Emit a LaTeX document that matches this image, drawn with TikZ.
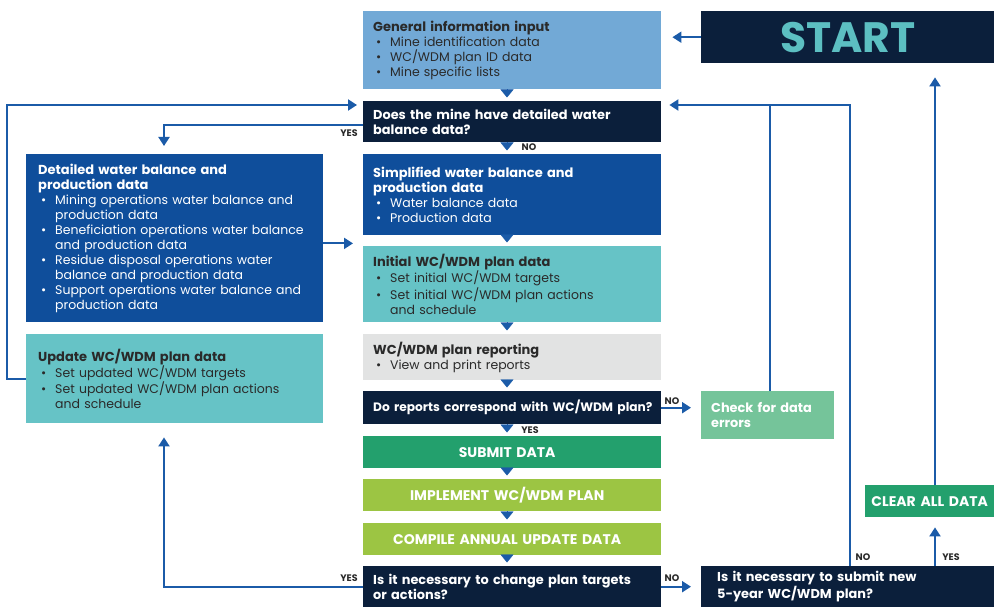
\documentclass[tikz,border=0pt]{standalone}
\usepackage{fontspec}
\setmainfont{Poppins}
\usetikzlibrary{arrows.meta,calc}
\definecolor{navy}{HTML}{0B1F3B}
\definecolor{lblue}{HTML}{72A9D6}
\definecolor{mblue}{HTML}{0F4E9B}
\definecolor{teal}{HTML}{66C3C6}
\definecolor{lgray}{HTML}{E2E3E3}
\definecolor{cgreen}{HTML}{75C49A}
\definecolor{dgreen}{HTML}{23A06D}
\definecolor{lime}{HTML}{9CC543}
\definecolor{ablue}{HTML}{1B5BA8}
\definecolor{starttxt}{HTML}{5CBFC2}
\definecolor{dtext}{HTML}{2A2A2A}
\newcommand{\bl}{\makebox[17pt][l]{\hspace{3pt}\textbullet}}
\newcommand{\ct}{\hspace*{17pt}}
\begin{document}
\begin{tikzpicture}[x=1pt,y=-1pt,
  box/.style={anchor=north west, inner ysep=0pt, inner xsep=10pt, align=left,
    font=\fontsize{12.5}{15}\selectfont},
  hd/.style={font=\fontsize{12.9}{15}\bfseries\selectfont},
  conn/.style={draw=ablue, line width=2pt, -{Triangle[width=11pt,length=9pt]}},
  plain/.style={draw=ablue, line width=2pt},
  tri/.style={draw=ablue, fill=ablue, line width=0.4pt, -{Triangle[width=13pt,length=8pt]}},
  lbl/.style={font=\fontsize{9.5}{10}\bfseries\selectfont, text=dtext, inner sep=0pt},
  caps/.style={font=\fontsize{14}{15}\bfseries\selectfont, text=white}
]
\useasboundingbox (0,0) rectangle (994,607);
\coordinate (colx) at (507,0);

% boxes
\node[box, fill=lblue, minimum width=298pt, minimum height=78pt, text width=278pt, text=dtext] (gen) at (363,11)
 {{\bfseries\fontsize{13}{15}\selectfont General information input}\\ \bl Mine identification data\\ \bl WC/WDM plan ID data\\ \bl Mine specific lists};
\node[box, fill=navy, minimum width=293pt, minimum height=52pt, text width=273pt, align=center, text=starttxt,
  font=\fontsize{42.5}{42}\bfseries\selectfont] (start) at (701,11) {START};
\node[box, fill=navy, minimum width=298pt, minimum height=41pt, text width=278pt, text=white, hd] (q1) at (363,101)
 {Does the mine have detailed water\\balance data?};
\node[box, fill=mblue, minimum width=297pt, minimum height=168pt, text width=273pt, inner xsep=12pt, text=white] (det) at (26,154)
 {{\bfseries\fontsize{13}{15}\selectfont Detailed water balance and\\production data}\\
  \bl Mining operations water balance and\\ \ct production data\\
  \bl Beneficiation operations water balance\\ \ct and production data\\
  \bl Residue disposal operations water\\ \ct balance and production data\\
  \bl Support operations water balance and\\ \ct production data};
\node[box, fill=mblue, minimum width=298pt, minimum height=81pt, text width=278pt, text=white] (simp) at (363,154)
 {{\bfseries\fontsize{13}{15}\selectfont Simplified water balance and\\production data}\\ \bl Water balance data\\ \bl Production data};
\node[box, fill=teal, minimum width=298pt, minimum height=76pt, text width=278pt, text=dtext] (init) at (363,246)
 {{\bfseries\fontsize{13}{15}\selectfont Initial WC/WDM plan data}\\ \bl Set initial WC/WDM targets\\ \bl Set initial WC/WDM plan actions\\ \ct and schedule};
\node[box, fill=teal, minimum width=297pt, minimum height=89pt, text width=273pt, inner xsep=12pt, text=dtext] (upd) at (26,334)
 {{\bfseries\fontsize{13}{15}\selectfont Update WC/WDM plan data}\\ \bl Set updated WC/WDM targets\\ \bl Set updated WC/WDM plan actions\\ \ct and schedule};
\node[box, fill=lgray, minimum width=298pt, minimum height=46pt, text width=278pt, text=dtext] (rep) at (363,334)
 {{\bfseries\fontsize{13}{15}\selectfont WC/WDM plan reporting}\\ \bl View and print reports};
\node[box, fill=navy, minimum width=298pt, minimum height=33pt, text width=278pt, text=white, hd] (do) at (363,391)
 {\mbox{\fontsize{12.2}{15}\selectfont Do reports correspond with WC/WDM plan?}};
\node[box, fill=cgreen, minimum width=133pt, minimum height=48pt, text width=113pt, text=white, hd] (chk) at (701,391)
 {Check for data\\errors};
\node[box, fill=dgreen, minimum width=298pt, minimum height=32pt, text width=278pt, caps] (sub) at (363,436)
 {\makebox[268pt][c]{SUBMIT DATA}};
\node[box, fill=lime, minimum width=298pt, minimum height=32pt, text width=278pt, caps] (impl) at (363,479)
 {\makebox[268pt][c]{IMPLEMENT WC/WDM PLAN}};
\node[box, fill=lime, minimum width=298pt, minimum height=32pt, text width=278pt, caps] (comp) at (363,523)
 {\makebox[268pt][c]{COMPILE ANNUAL UPDATE DATA}};
\node[box, fill=navy, minimum width=298pt, minimum height=41pt, text width=278pt, text=white, hd] (q3) at (363,566)
 {Is it necessary to change plan targets\\or actions?};
\node[box, fill=navy, minimum width=293pt, minimum height=41pt, text width=261pt, inner xsep=16pt, text=white, hd] (q4) at (701,566)
 {Is it necessary to submit new\\5-year WC/WDM plan?};
\node[box, fill=dgreen, minimum width=129pt, minimum height=32pt, text width=125pt, inner xsep=2pt, align=center, caps] (clr) at (865,485)
 {CLEAR ALL DATA};

% down triangles in the middle column
\foreach \a/\b in {gen/q1, q1/simp, simp/init, init/rep, rep/do, do/sub, sub/impl, impl/comp, comp/q3}
  \draw[tri, shorten >=3.5pt] (\a.south -| colx) -- (\b.north -| colx);

% coordinates for connector ends
\coordinate (q1inL) at ($(q1.north west)+(0,4)$);
\coordinate (q1inR) at ($(q1.north east)+(0,4)$);
\coordinate (detin) at ($(det.north west)+(138,0)$);
\coordinate (updin) at ($(upd.south west)+(138,0)$);
\coordinate (midin) at ($(simp.south west)+(0,8)$);
\coordinate (chktop) at ($(chk.north west)+(69,0)$);
\coordinate (q4a) at ($(q4.north west)+(149,0)$);
\coordinate (q4b) at ($(q4.north west)+(234,0)$);

% connectors
\draw[conn, shorten >=11pt] (start.west) -- (start.west -| gen.east);
\draw[conn, shorten >=6pt] (upd.west) -- ++(-19,0) |- (q1inL);
\draw[conn, shorten >=8pt] ($(q1.west)+(0,3)$) -| (detin);
\draw[conn, shorten >=10pt] (det.east |- midin) -- (midin);
\draw[conn, shorten >=10pt] (do.east) -- (do.east -| chk.west);
\draw[conn, shorten >=8pt] (chktop) |- (q1inR);
\draw[plain, shorten >=10pt] (q4a) |- (q1inR);
\draw[conn, shorten >=10pt] (q4b) -- (q4b |- clr.south);
\draw[conn, shorten >=14pt] (q4b |- clr.north) -- (q4b |- start.south);
\draw[conn, shorten >=14pt] (q3.west) -| (updin);
\draw[conn, shorten >=10pt] (q3.east) -- (q3.east -| q4.west);

% labels
\node[lbl] (l1) at (349,133) {YES};
\node[lbl] (l2) at (529,147) {NO};
\node[lbl] (l3) at (672,401) {NO};
\node[lbl] (l4) at (530,430) {YES};
\node[lbl] (l5) at (349,578) {YES};
\node[lbl] (l6) at (672,578) {NO};
\node[lbl] (l7) at (863,557) {NO};
\node[lbl] (l8) at (951,557) {YES};
\end{tikzpicture}
\end{document}
